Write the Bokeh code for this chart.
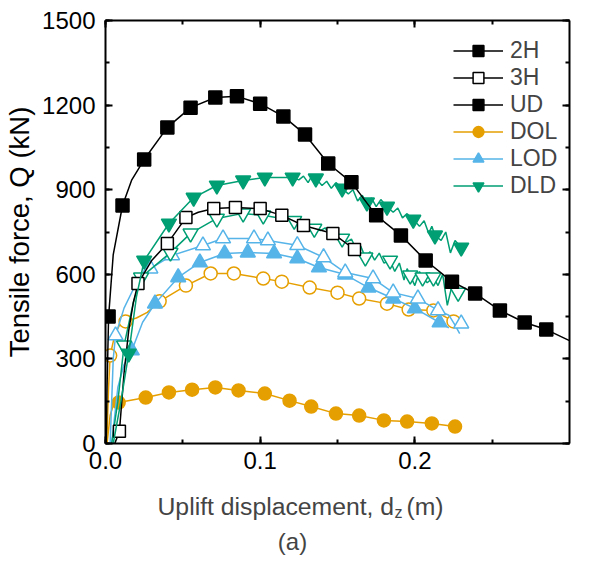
from bokeh.plotting import figure
from bokeh.models import (LinearAxis, SingleIntervalTicker, PrintfTickFormatter,
                          Legend, LegendItem, Label, Range1d)
from bokeh.embed import file_html
from bokeh.resources import INLINE

# ---------------- data (uplift displacement m, tensile force kN) ----------------
# UD, 2H (black filled squares)
ud2_line_d = [0.0005, 0.001, 0.002, 0.005, 0.011, 0.017, 0.025, 0.040, 0.055, 0.071, 0.085, 0.100,
              0.115, 0.129, 0.144, 0.159, 0.175, 0.191, 0.207, 0.224, 0.239, 0.255, 0.271, 0.285, 0.300]
ud2_line_q = [0, 200, 450, 670, 844, 935, 1007, 1121, 1191, 1227, 1231, 1205,
              1160, 1096, 993, 926, 809, 738, 649, 574, 532, 472, 429, 404, 365]
ud2_mark_d = [0.002, 0.011, 0.025, 0.040, 0.055, 0.071, 0.085, 0.100, 0.115, 0.129, 0.144, 0.159,
              0.175, 0.191, 0.207, 0.224, 0.239, 0.255, 0.271, 0.285]
ud2_mark_q = [450, 844, 1007, 1121, 1191, 1227, 1231, 1205, 1160, 1096, 993, 926,
              809, 738, 649, 574, 532, 472, 429, 404]

# UD, 3H (black open squares)
ud3_line_d = [0.006, 0.009, 0.012, 0.015, 0.018, 0.021, 0.030, 0.040, 0.052, 0.060, 0.070, 0.084,
              0.100, 0.114, 0.128, 0.147, 0.161, 0.165]
ud3_line_q = [0, 43, 250, 400, 500, 567, 650, 709, 801, 820, 833, 837,
              833, 809, 773, 745, 688, 680]
ud3_mark_d = [0.009, 0.021, 0.040, 0.052, 0.070, 0.084, 0.100, 0.114, 0.128, 0.147, 0.161]
ud3_mark_q = [43, 567, 709, 801, 833, 837, 833, 809, 773, 745, 688]

# DOL, 2H (orange filled circles)
dol2_line_d = [0.001, 0.003, 0.005, 0.0085, 0.026, 0.041, 0.056, 0.071, 0.086, 0.103, 0.119, 0.133,
               0.149, 0.164, 0.180, 0.195, 0.211, 0.226]
dol2_line_q = [0, 100, 135, 145, 163, 181, 191, 199, 188, 177, 152, 131,
               106, 99, 82, 78, 71, 60]
dol2_mark_d = [0.0085, 0.026, 0.041, 0.056, 0.071, 0.086, 0.103, 0.119, 0.133, 0.149, 0.164,
               0.180, 0.195, 0.211, 0.226]
dol2_mark_q = [145, 163, 181, 191, 199, 188, 177, 152, 131, 106, 99, 82, 78, 71, 60]

# DOL, 3H (orange open circles)
dol3_line_d = [0.0008, 0.002, 0.003, 0.006, 0.009, 0.013, 0.020, 0.027, 0.035, 0.052, 0.068, 0.083,
               0.102, 0.114, 0.132, 0.150, 0.164, 0.182, 0.196, 0.212, 0.225]
dol3_line_q = [0, 200, 312, 385, 420, 433, 445, 465, 504, 560, 603, 603,
               585, 574, 553, 535, 514, 496, 475, 472, 433]
dol3_mark_d = [0.003, 0.013, 0.035, 0.052, 0.068, 0.083, 0.102, 0.114, 0.132, 0.150, 0.164,
               0.182, 0.196, 0.212, 0.225]
dol3_mark_q = [312, 433, 504, 560, 603, 603, 585, 574, 553, 535, 514, 496, 475, 472, 433]

# LOD, 2H (blue filled triangles)
lod2_line_d = [0.004, 0.008, 0.012, 0.017, 0.024, 0.032, 0.047, 0.061, 0.077, 0.092, 0.109, 0.124,
               0.138, 0.155, 0.170, 0.186, 0.200, 0.216, 0.222]
lod2_line_q = [0, 200, 280, 330, 430, 496, 589, 642, 674, 677, 674, 656,
               624, 599, 553, 514, 479, 429, 410]
lod2_mark_d = [0.017, 0.032, 0.047, 0.061, 0.077, 0.092, 0.109, 0.124, 0.138, 0.155, 0.170,
               0.186, 0.200, 0.216]
lod2_mark_q = [330, 496, 589, 642, 674, 677, 674, 656, 624, 599, 553, 514, 479, 429]

# LOD, 3H (blue open triangles)
lod3_line_d = [0.003, 0.005, 0.0065, 0.012, 0.020, 0.029, 0.043, 0.063, 0.076, 0.096, 0.105, 0.124,
               0.141, 0.155, 0.173, 0.186, 0.202, 0.215, 0.222, 0.226, 0.229]
lod3_line_q = [0, 300, 383, 480, 570, 620, 667, 702, 727, 727, 720, 703,
               660, 606, 585, 535, 514, 472, 455, 420, 390]
lod3_mark_d = [0.0065, 0.029, 0.043, 0.063, 0.076, 0.096, 0.105, 0.124, 0.141, 0.155, 0.173,
               0.186, 0.202, 0.215, 0.230]
lod3_mark_q = [383, 620, 667, 702, 727, 727, 720, 703, 660, 606, 585, 535, 514, 472, 425]

# DLD, 2H (green filled inverted triangles)
dld2_line_d = [0.005, 0.010, 0.015, 0.020, 0.025, 0.041, 0.057, 0.072, 0.089, 0.103, 0.121,
               0.125, 0.128, 0.131, 0.133, 0.136, 0.140, 0.143, 0.146, 0.149, 0.153, 0.157, 0.160,
               0.163, 0.166, 0.169, 0.172, 0.175, 0.178, 0.182, 0.186, 0.189, 0.192, 0.195, 0.199,
               0.203, 0.206, 0.209, 0.211, 0.213, 0.217, 0.220, 0.223, 0.226, 0.230]
dld2_line_q = [0, 150, 319, 520, 649, 780, 872, 915, 933, 943, 943,
               935, 948, 925, 945, 940, 915, 930, 905, 925, 904, 885, 900,
               860, 880, 855, 870, 840, 865, 840, 820, 835, 800, 815, 794,
               770, 790, 745, 770, 738, 720, 750, 676, 720, 695]
dld2_mark_d = [0.015, 0.025, 0.041, 0.057, 0.072, 0.089, 0.103, 0.121, 0.136, 0.153, 0.169,
               0.182, 0.199, 0.213, 0.230]
dld2_mark_q = [319, 649, 780, 872, 915, 933, 943, 943, 940, 904, 855, 840, 794, 738, 695]

# DLD, 3H (green open inverted triangles)
dld3_line_d = [0.004, 0.008, 0.012, 0.018, 0.023, 0.042, 0.055, 0.072, 0.089, 0.102, 0.122,
               0.125, 0.128, 0.131, 0.135, 0.139, 0.142, 0.145, 0.149, 0.153, 0.156, 0.159, 0.162,
               0.165, 0.168, 0.171, 0.174, 0.177, 0.180, 0.184, 0.187, 0.190, 0.193, 0.195, 0.197,
               0.200, 0.203, 0.205, 0.208, 0.212, 0.215, 0.218, 0.221, 0.224, 0.228]
dld3_line_q = [0, 150, 348, 500, 589, 677, 745, 798, 816, 809, 790,
               785, 770, 780, 762, 755, 765, 740, 745, 727, 715, 725, 690,
               700, 660, 680, 650, 675, 640, 649, 610, 640, 580, 620, 596,
               560, 610, 589, 570, 589, 560, 600, 490, 560, 535]
dld3_mark_d = [0.012, 0.023, 0.042, 0.055, 0.072, 0.089, 0.102, 0.122, 0.135, 0.153, 0.168,
               0.184, 0.197, 0.205, 0.212, 0.228]
dld3_mark_q = [348, 589, 677, 745, 798, 816, 809, 790, 762, 727, 660, 649, 596, 589, 589, 535]

legend_labels = ["2H", "3H", "UD", "DOL", "LOD", "DLD"]
x_ticks_fmt = "%.1f"
y_title = "Tensile force, Q (kN)"
x_title_main = "Uplift displacement, d\u2002(m)"
x_title_sub = "z"
panel_tag = "(a)"

# ---------------- styling ----------------
BLACK = "#000000"
ORANGE = "#E69F00"
BLUE = "#56B4E9"
GREEN = "#009E73"
FONT = "Liberation Sans"
LW = 1.5

p = figure(width=590, height=565, x_range=Range1d(0, 0.3), y_range=Range1d(0, 1500),
           output_backend="svg", toolbar_location=None,
           min_border_left=105, min_border_right=21, min_border_top=20, min_border_bottom=122,
           x_axis_location="below", y_axis_location="left")
p.xgrid.visible = False
p.ygrid.visible = False
p.outline_line_color = None
p.background_fill_color = "white"
p.border_fill_color = "white"

xt = SingleIntervalTicker(interval=0.1, num_minor_ticks=2)
yt = SingleIntervalTicker(interval=300, num_minor_ticks=2)


def style_axis(ax, show_labels):
    ax.axis_line_width = 2
    ax.axis_line_color = BLACK
    ax.major_tick_line_width = 2
    ax.minor_tick_line_width = 2
    ax.major_tick_in = 7
    ax.major_tick_out = 0
    ax.minor_tick_in = 4
    ax.minor_tick_out = 0
    if show_labels:
        ax.major_label_text_font = FONT
        ax.major_label_text_font_size = "24px"
        ax.major_label_text_color = BLACK
        ax.major_label_standoff = 8
    else:
        ax.major_label_text_font_size = "0px"
        ax.major_label_text_color = None
        ax.major_label_standoff = 0


p.xaxis.ticker = xt
p.yaxis.ticker = yt
p.xaxis.formatter = PrintfTickFormatter(format=x_ticks_fmt)
for ax in p.xaxis:
    style_axis(ax, True)
for ax in p.yaxis:
    style_axis(ax, True)
    ax.major_label_standoff = 10
    ax.axis_label = y_title
    ax.axis_label_text_font = FONT
    ax.axis_label_text_font_size = "27.5px"
    ax.axis_label_text_font_style = "normal"
    ax.axis_label_text_color = BLACK
    ax.axis_label_standoff = 4

top = LinearAxis(ticker=SingleIntervalTicker(interval=0.1, num_minor_ticks=2))
style_axis(top, False)
p.add_layout(top, "above")
right = LinearAxis(ticker=SingleIntervalTicker(interval=300, num_minor_ticks=2))
style_axis(right, False)
p.add_layout(right, "right")


def series(ld, lq, md, mq, color, marker, size, filled):
    lr = p.line(ld, lq, line_color=color, line_width=LW)
    sr = p.scatter(md, mq, marker=marker, size=size, line_color=color, line_width=LW,
                   fill_color=color if filled else "white")
    return [lr, sr]


r_dol2 = series(dol2_line_d, dol2_line_q, dol2_mark_d, dol2_mark_q, ORANGE, "circle", 13, True)
r_dol3 = series(dol3_line_d, dol3_line_q, dol3_mark_d, dol3_mark_q, ORANGE, "circle", 13, False)
r_lod2 = series(lod2_line_d, lod2_line_q, lod2_mark_d, lod2_mark_q, BLUE, "triangle", 15, True)
r_lod3 = series(lod3_line_d, lod3_line_q, lod3_mark_d, lod3_mark_q, BLUE, "triangle", 15, False)
r_dld3 = series(dld3_line_d, dld3_line_q, dld3_mark_d, dld3_mark_q, GREEN, "inverted_triangle", 15, False)
r_ud3 = series(ud3_line_d, ud3_line_q, ud3_mark_d, ud3_mark_q, BLACK, "square", 12, False)
r_dld2 = series(dld2_line_d, dld2_line_q, dld2_mark_d, dld2_mark_q, GREEN, "inverted_triangle", 15, True)
r_ud2 = series(ud2_line_d, ud2_line_q, ud2_mark_d, ud2_mark_q, BLACK, "square", 13, True)

# ---------------- legend ----------------
leg_renderers = [r_ud2, r_ud3, r_ud2, r_dol2, r_lod2, r_dld2]
items = [LegendItem(label=lab, renderers=rs) for lab, rs in zip(legend_labels, leg_renderers)]

legend = Legend(items=items, location=(348, 244), border_line_color=None,
                background_fill_alpha=0, padding=0, margin=0, spacing=0,
                glyph_width=50, glyph_height=27, label_height=27, label_standoff=7,
                label_text_font=FONT, label_text_font_size="23px",
                label_text_baseline="middle")
p.add_layout(legend, "center")

# ---------------- x title pieces, stacked below the x axis ----------------
# (x in px from frame left; y in px from the bottom of each label's own strip)
p.add_layout(Label(x=52, y=-8, x_units="screen", y_units="screen", text=x_title_main,
                   text_font=FONT, text_font_size="24.75px", text_baseline="alphabetic",
                   text_align="left"), "below")
p.add_layout(Label(x=289, y=3, x_units="screen", y_units="screen", text=x_title_sub,
                   text_font=FONT, text_font_size="16px", text_baseline="alphabetic",
                   text_align="left"), "below")
p.add_layout(Label(x=187, y=1, x_units="screen", y_units="screen", text=panel_tag,
                   text_font=FONT, text_font_size="24px", text_baseline="alphabetic",
                   text_align="center"), "below")

open("out.html", "w").write(file_html(p, INLINE))
